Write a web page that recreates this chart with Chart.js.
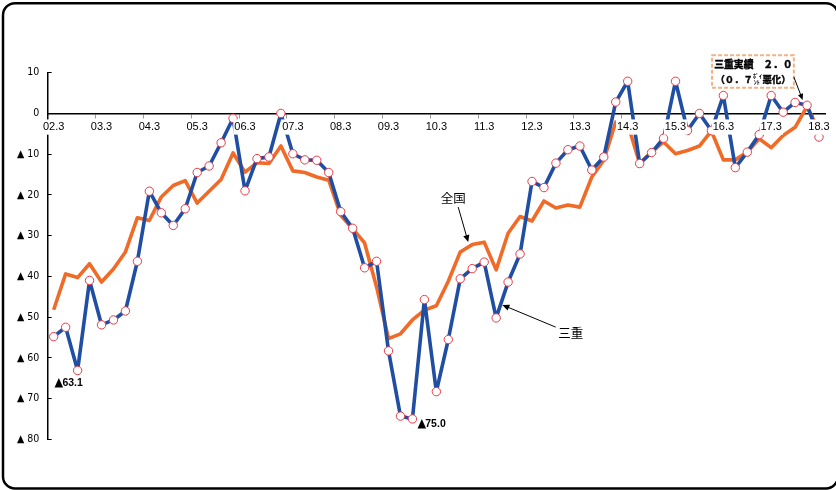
<!DOCTYPE html>
<html>
<head>
<meta charset="utf-8">
<script src="https://cdn.jsdelivr.net/npm/chart.js@4/dist/chart.umd.min.js"></script>
<style>
  html, body { margin: 0; padding: 0; background: #fff; }
  #c { display: block; }
</style>
</head>
<body>
<canvas id="c" width="836" height="490"></canvas>
<script>
// Year tick labels (shown every 4 quarters)
const yearLabels = ['02.3','03.3','04.3','05.3','06.3','07.3','08.3','09.3','10.3','11.3','12.3','13.3','14.3','15.3','16.3','17.3','18.3'];
const quarterSuffix = ['.3', '.6', '.9', '.12'];

// 三重 (Mie) — quarterly values
const mieValues = [
  -54.8, -52.5, -63.1, -41.0, -51.9, -50.7, -48.5, -36.3,
  -19.1, -24.4, -27.5, -23.4, -14.5, -12.9, -7.2, -1.2,
  -19.0, -11.1, -10.7, 0.0, -9.9, -11.4, -11.5, -14.5,
  -24.1, -28.2, -37.9, -36.3, -58.3, -74.3, -75.0, -45.7,
  -68.3, -55.5, -40.6, -38.1, -36.5, -50.2, -41.4, -34.5,
  -16.7, -18.2, -12.2, -8.9, -8.0, -13.9, -10.7, 2.8,
  7.9, -12.3, -9.6, -6.1, 7.9, -4.2, 0.0, -4.2,
  4.4, -13.3, -9.5, -5.2, 4.4, 0.3, 2.7, 2.0,
  -5.8
];

// 全国 (nationwide) — quarterly values
const nationValues = [
  -48.2, -39.4, -40.3, -36.9, -41.4, -38.2, -34.0, -25.6,
  -26.3, -20.5, -17.7, -16.5, -22.0, -19.1, -16.2, -9.7,
  -14.4, -12.1, -12.3, -8.0, -14.1, -14.5, -15.6, -16.4,
  -25.0, -28.3, -31.8, -42.6, -55.3, -54.1, -50.7, -48.3,
  -47.2, -41.2, -34.0, -32.2, -31.6, -38.4, -29.4, -25.3,
  -26.4, -21.5, -23.2, -22.5, -23.0, -15.6, -11.5, -2.1,
  -2.5, -12.3, -9.5, -7.0, -9.9, -9.1, -8.0, -4.3,
  -11.4, -11.4, -9.5, -6.2, -8.4, -5.4, -3.4, 1.7,
  -4.2
];

// y-axis tick values
const yTickMin = -80, yTickMax = 10, yTickStep = 10;

// categories built from the year labels
const categories = [];
yearLabels.forEach((yl, yi) => {
  const yy = yl.split('.')[0];
  quarterSuffix.forEach((q, qi) => {
    if (yi === yearLabels.length - 1 && qi > 0) return;
    categories.push(yy + q);
  });
});

const BLUE = '#1f4ea3';
const ORANGE = '#f06a28';
const RED = '#ec3a44';
const FONT = '"Liberation Sans", "Noto Sans CJK JP", Arial, sans-serif';
const YFONT = '"DejaVu Sans Condensed", "DejaVu Sans", sans-serif';
const CJK = '"Noto Sans CJK JP", "Noto Sans", sans-serif';

function arrow(ctx, x1, y1, x2, y2, head) {
  const a = Math.atan2(y2 - y1, x2 - x1);
  const h = head || 6;
  ctx.beginPath();
  ctx.moveTo(x1, y1);
  ctx.lineTo(x2 - Math.cos(a) * h * 0.8, y2 - Math.sin(a) * h * 0.8);
  ctx.stroke();
  ctx.beginPath();
  ctx.moveTo(x2, y2);
  ctx.lineTo(x2 - h * Math.cos(a) + (h * 0.45) * Math.sin(a), y2 - h * Math.sin(a) - (h * 0.45) * Math.cos(a));
  ctx.lineTo(x2 - h * Math.cos(a) - (h * 0.45) * Math.sin(a), y2 - h * Math.sin(a) + (h * 0.45) * Math.cos(a));
  ctx.closePath();
  ctx.fill();
}

function boldText(ctx, t, x, y) {
  ctx.fillText(t, x, y);
  ctx.lineWidth = 0.45;
  ctx.strokeText(t, x, y);
}

function triLabel(ctx, t, x, y) {
  ctx.textAlign = 'left';
  ctx.font = '12.5px ' + YFONT;
  ctx.fillText('▲', x, y);
  const w = ctx.measureText('▲').width;
  ctx.font = 'bold 10.5px ' + FONT;
  ctx.fillText(t, x + w - 0.8, y + 0.5);
}

const decor = {
  id: 'decor',
  beforeDraw(chart) {
    const ctx = chart.ctx;
    ctx.save();
    ctx.fillStyle = '#fff';
    ctx.fillRect(0, 0, chart.width, chart.height);
    ctx.restore();
  },
  afterDraw(chart) {
    const ctx = chart.ctx;
    const x = chart.scales.x, y = chart.scales.y;
    const px = i => x.getPixelForValue(i);
    const py = v => y.getPixelForValue(v);
    ctx.save();
    // outer rounded frame
    ctx.strokeStyle = '#000';
    ctx.lineWidth = 2.5;
    ctx.beginPath();
    ctx.roundRect(3, 3.2, 835, 485.2, 12);
    ctx.stroke();

    ctx.fillStyle = '#000';
    ctx.strokeStyle = '#000';
    ctx.textBaseline = 'middle';
    // ▲63.1
    let ax = px(2), ay = py(mieValues[2]);
    triLabel(ctx, '63.1', ax - 23, ay + 12.5);
    // ▲75.0
    ax = px(30); ay = py(mieValues[30]);
    triLabel(ctx, '75.0', ax + 5, ay + 4.5);

    // 全国 label + arrow
    ctx.lineWidth = 1;
    ctx.font = '12.5px ' + CJK;
    ctx.textAlign = 'center';
    ax = px(35); ay = py(nationValues[35]);
    ctx.fillText('全国', ax - 19, ay - 46.5);
    arrow(ctx, ax - 14, ay - 37.5, ax - 4, ay - 2.5, 7);

    // 三重 label + arrow
    ax = px(37); ay = py(mieValues[37]);
    ctx.fillText('三重', ax + 74.5, ay + 15.5);
    arrow(ctx, ax + 59.5, ay + 9.2, ax + 6.2, ay - 13, 7);

    // annotation box
    ax = px(63); ay = py(mieValues[63]);
    const bx1 = ax - 95, bx2 = ax - 13.2, by1 = ay - 50, by2 = ay - 17.6;
    ctx.fillStyle = '#fff';
    ctx.fillRect(bx1, by1, bx2 - bx1, by2 - by1);
    ctx.setLineDash([4, 2]);
    ctx.strokeStyle = '#f4b183';
    ctx.lineWidth = 2;
    ctx.strokeRect(bx1, by1, bx2 - bx1, by2 - by1);
    ctx.setLineDash([]);
    ctx.fillStyle = '#000';
    ctx.strokeStyle = '#000';
    const cx = (bx1 + bx2) / 2;
    ctx.font = 'bold 9.8px ' + CJK;
    ctx.textAlign = 'center';
    boldText(ctx, '三重実績　２．０', cx + 0.5, by1 + 8.5);
    // second line, with stacked small ﾎﾟｲﾝﾄ
    const f2 = 'bold 9.4px ' + CJK;
    const fs = 'bold 6px ' + CJK;
    ctx.font = f2;
    const p1 = '（０．７', p3 = '悪化）';
    const w1 = ctx.measureText(p1).width, w3 = ctx.measureText(p3).width;
    const w2 = 9.5;
    let sx = cx - (w1 + w2 + w3) / 2;
    const ly = by1 + 23.7;
    ctx.textAlign = 'left';
    boldText(ctx, p1, sx, ly);
    ctx.font = fs;
    ctx.fillText('ﾎﾟｲ', sx + w1, ly - 2.8);
    ctx.fillText('ﾝﾄ', sx + w1 + 0.8, ly + 2.6);
    ctx.font = f2;
    boldText(ctx, p3, sx + w1 + w2, ly);
    ctx.lineWidth = 1;
    arrow(ctx, bx2, ay - 28.2, ax - 4.4, ay - 5.4, 6);
    ctx.restore();
  }
};

new Chart(document.getElementById('c'), {
  type: 'line',
  data: {
    labels: categories,
    datasets: [
      {
        label: '三重',
        data: mieValues,
        borderColor: BLUE,
        borderWidth: 3.6,
        borderJoinStyle: 'round',
        pointRadius: 4.2,
        pointBorderWidth: 1,
        pointBorderColor: RED,
        pointBackgroundColor: '#fff',
        tension: 0
      },
      {
        label: '全国',
        data: nationValues,
        borderColor: ORANGE,
        borderWidth: 3.6,
        borderJoinStyle: 'round',
        pointRadius: 0,
        tension: 0
      }
    ]
  },
  options: {
    responsive: false,
    animation: false,
    devicePixelRatio: 1,
    layout: { padding: { left: 0, top: 72.7, right: 11, bottom: 50.7 } },
    plugins: { legend: { display: false }, tooltip: { enabled: false } },
    scales: {
      x: {
        type: 'category',
        position: { y: 0 },
        offset: true,
        grid: {
          offset: true,
          drawOnChartArea: false,
          drawTicks: true,
          tickLength: 4,
          color: ctx => (ctx.index % 4 === 0 ? '#999' : 'rgba(0,0,0,0)'),
          lineWidth: 1
        },
        border: { display: true, color: '#000', width: 1.5 },
        ticks: {
          z: 1,
          autoSkip: false,
          maxRotation: 0,
          minRotation: 0,
          padding: 3,
          color: '#000',
          font: { family: FONT, size: 11 },
          callback: (v, i) => (i % 4 === 0 ? yearLabels[i / 4] : ''),
          showLabelBackdrop: ctx => ctx.index % 4 === 0,
          backdropColor: '#fff',
          backdropPadding: { top: 1, bottom: 1, left: 1, right: 1 }
        }
      },
      y: {
        type: 'linear',
        position: 'left',
        min: yTickMin,
        max: yTickMax,
        afterFit: s => { s.width = 47.7; },
        grid: {
          drawOnChartArea: false,
          drawTicks: true,
          tickLength: -4,
          color: '#000',
          lineWidth: 1
        },
        border: { display: true, color: '#000', width: 1.5 },
        ticks: {
          stepSize: yTickStep,
          padding: 12.4,
          color: '#000',
          font: { family: YFONT, size: 10.5 },
          callback: v => (v < 0 ? '▲ ' + (-v) : String(v))
        }
      }
    }
  },
  plugins: [decor]
});
</script>
</body>
</html>
